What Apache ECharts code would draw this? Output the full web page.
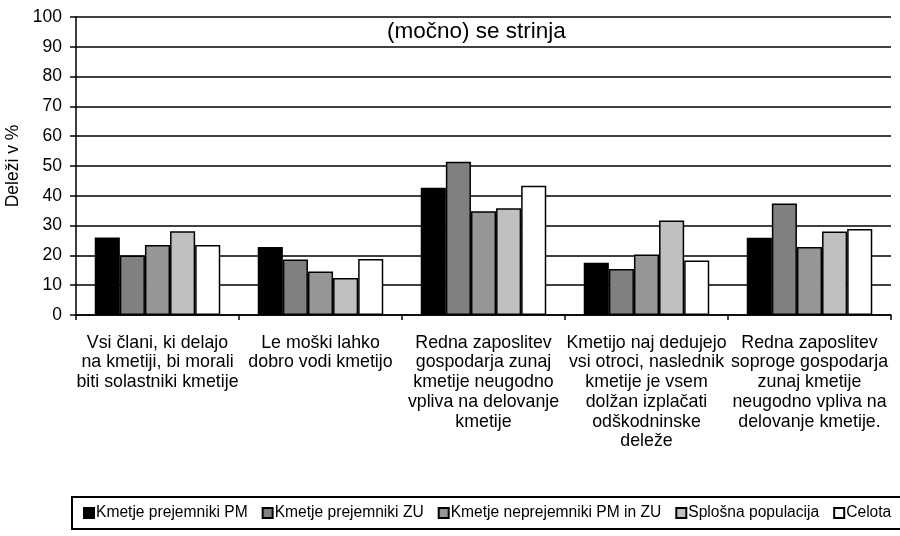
<!DOCTYPE html>
<html>
<head>
<meta charset="utf-8">
<script src="https://cdn.jsdelivr.net/npm/echarts@6/dist/echarts.min.js"></script>
<style>
  html, body { margin: 0; padding: 0; background: #fff; }
</style>
</head>
<body>
<div id="main" style="width: 900px; height: 536px"></div>
<script>
// kategorije (trditve)
var categories = [
    'Vsi člani, ki delajo\nna kmetiji, bi morali\nbiti solastniki kmetije',
    'Le moški lahko\ndobro vodi kmetijo',
    'Redna zaposlitev\ngospodarja zunaj\nkmetije neugodno\nvpliva na delovanje\nkmetije',
    'Kmetijo naj dedujejo\nvsi otroci, naslednik\nkmetije je vsem\ndolžan izplačati\nodškodninske\ndeleže',
    'Redna zaposlitev\nsoproge gospodarja\nzunaj kmetije\nneugodno vpliva na\ndelovanje kmetije.'
];

var seriesNames = [
    'Kmetje prejemniki PM',
    'Kmetje prejemniki ZU',
    'Kmetje neprejemniki PM in ZU',
    'Splošna populacija',
    'Celota'
];

var prejemnikiPM = [26.0, 22.8, 42.7, 17.5, 25.9];
var prejemnikiZU = [20.0, 18.6, 51.4, 15.4, 37.4];
var neprejemniki = [23.5, 14.6, 34.8, 20.3, 22.8];
var splosna = [28.1, 12.4, 35.8, 31.7, 28.0];
var celota = [23.5, 18.8, 43.4, 18.3, 28.9];

var colors = ['#000000', '#808080', '#969696', '#c0c0c0', '#ffffff'];
var values = [prejemnikiPM, prejemnikiZU, neprejemniki, splosna, celota];

var font = '"Liberation Sans", Arial, sans-serif';

var chartDom = document.getElementById('main');
var myChart = echarts.init(chartDom);
var option;

option = {
    animation: false,
    title: {
        text: '(močno) se strinja',
        left: 382,
        top: 15,
        textStyle: {
            fontFamily: font,
            fontSize: 22.5,
            fontWeight: 'normal',
            color: '#000'
        }
    },
    legend: {
        data: seriesNames,
        left: 72,
        top: 497,
        width: 1000,
        padding: [8, 24, 8, 11],
        borderColor: '#000',
        borderWidth: 2,
        itemWidth: 10,
        itemHeight: 10,
        itemGap: 14,
        icon: 'rect',
        textStyle: {
            fontFamily: font,
            fontSize: 15.6,
            color: '#000',
            padding: [0, 0, 0, -3]
        }
    },
    grid: {
        left: 76,
        right: 9,
        top: 17,
        bottom: 221,
        outerBoundsMode: 'none'
    },
    xAxis: {
        type: 'category',
        data: categories,
        axisLine: {
            lineStyle: { color: '#000', width: 1.5 }
        },
        axisTick: {
            show: true,
            length: 5,
            lineStyle: { color: '#000', width: 1.5 }
        },
        axisLabel: {
            interval: 0,
            margin: 18,
            fontFamily: font,
            fontSize: 17.8,
            lineHeight: 19.7,
            color: '#000',
            align: 'center'
        }
    },
    yAxis: {
        type: 'value',
        min: 0,
        max: 100,
        interval: 10,
        name: 'Deleži v %',
        nameLocation: 'middle',
        nameGap: 50,
        nameTextStyle: {
            fontFamily: font,
            fontSize: 17.5,
            color: '#000'
        },
        axisLine: {
            show: true,
            lineStyle: { color: '#000', width: 1.5 }
        },
        axisTick: {
            show: true,
            length: 6,
            lineStyle: { color: '#000', width: 1.5 }
        },
        axisLabel: {
            margin: 14,
            fontFamily: font,
            fontSize: 17.5,
            color: '#000'
        },
        splitLine: {
            lineStyle: { color: '#000', width: 1.5 }
        }
    },
    series: seriesNames.map(function (name, i) {
        return {
            name: name,
            type: 'bar',
            data: values[i],
            barGap: 0,
            barCategoryGap: '23%',
            itemStyle: {
                color: colors[i],
                borderColor: '#000',
                borderWidth: 1.5
            }
        };
    })
};

option && myChart.setOption(option);
</script>
</body>
</html>
